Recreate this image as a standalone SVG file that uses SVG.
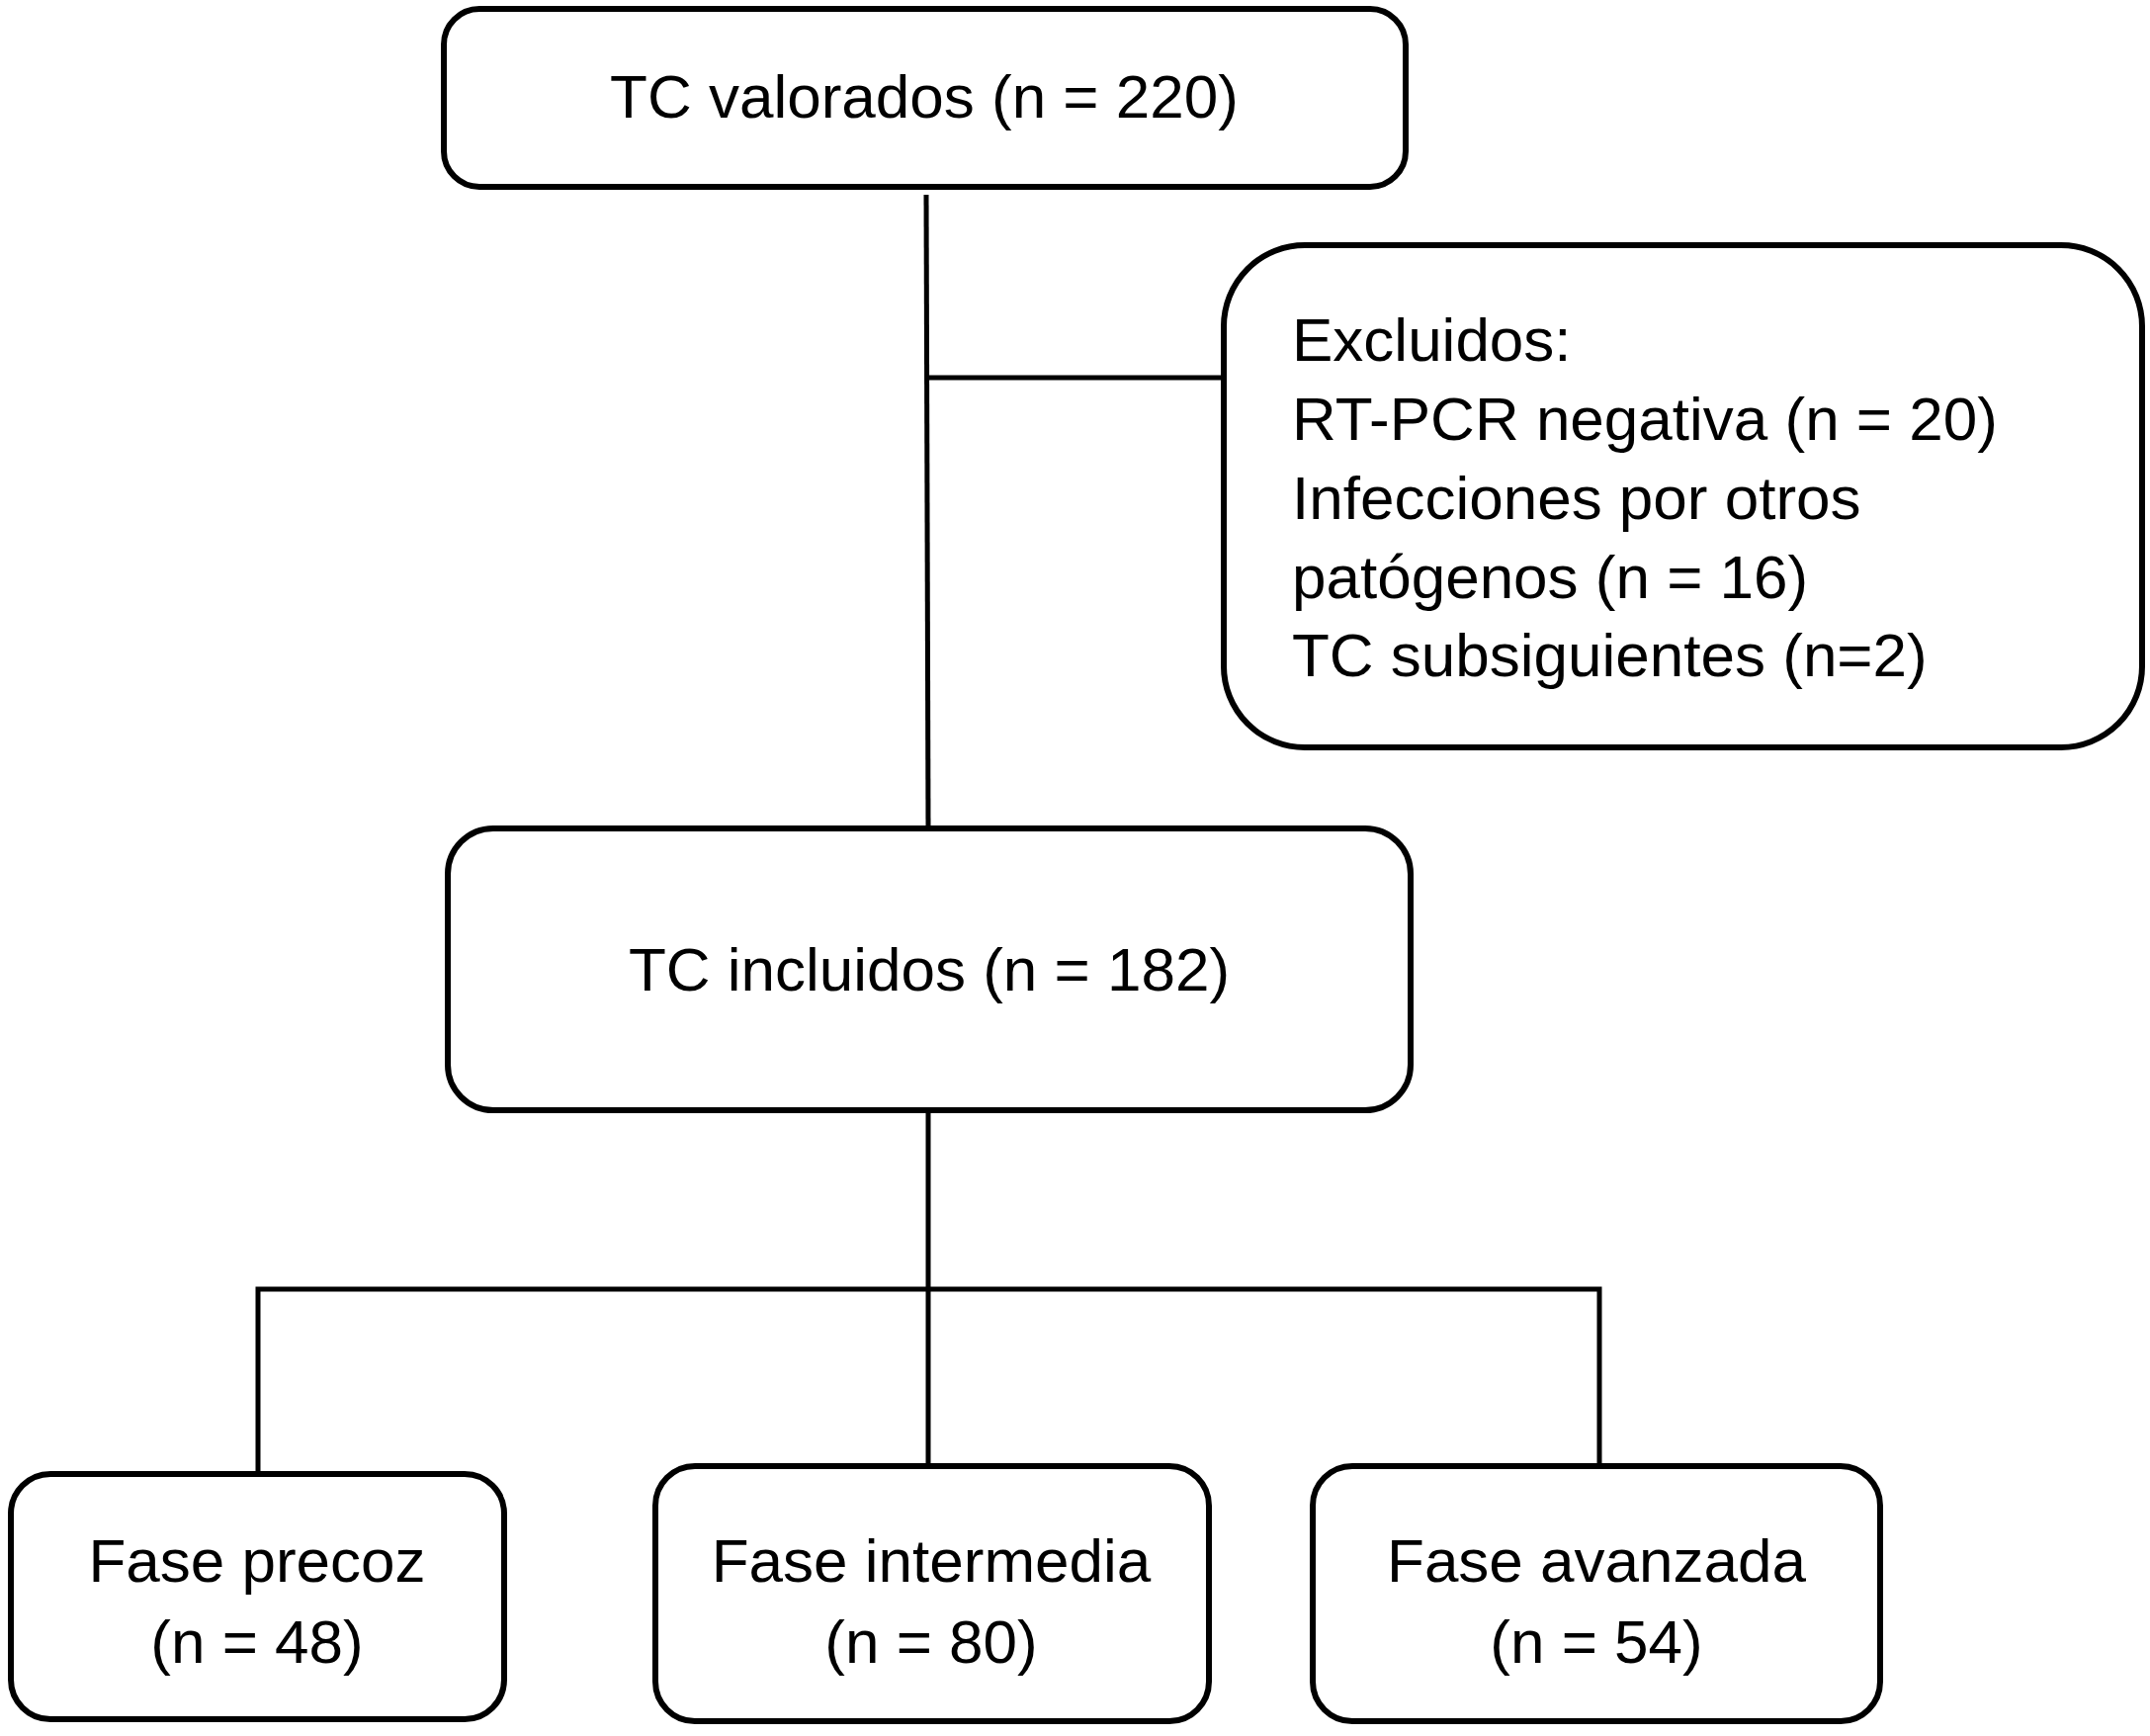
<svg xmlns="http://www.w3.org/2000/svg" width="2175" height="1756" viewBox="0 0 2175 1756">
<style>
.box{fill:#fff;stroke:#000;stroke-width:6}
.c{fill:none;stroke:#000;stroke-width:5;stroke-linecap:butt}
text{font-family:"Liberation Sans",Arial,sans-serif;font-size:62px;fill:#000}
.m{text-anchor:middle}
</style>
<rect width="2175" height="1756" fill="#fff"/>
<g id="connectors">
<line class="c" x1="937" y1="197" x2="939" y2="837"/>
<line class="c" x1="937" y1="382" x2="1238" y2="382"/>
<line class="c" x1="939" y1="1123" x2="939" y2="1482"/>
<polyline class="c" points="261,1491 261,1304 1618,1304 1618,1482"/>
</g>
<g id="n_valorados">
<rect class="box" x="449" y="9" width="973" height="180" rx="36" ry="36"/>
<text class="m" x="935" y="119">TC valorados (n = 220)</text>
</g>
<g id="n_excluidos">
<rect class="box" x="1238" y="248" width="929" height="508" rx="82" ry="82"/>
<text x="1307" y="365">Excluidos:</text>
<text x="1307" y="445">RT-PCR negativa (n = 20)</text>
<text x="1307" y="525">Infecciones por otros</text>
<text x="1307" y="605">patógenos (n = 16)</text>
<text x="1307" y="684">TC subsiguientes (n=2)</text>
</g>
<g id="n_incluidos">
<rect class="box" x="453" y="838" width="974" height="285" rx="46" ry="46"/>
<text class="m" x="940" y="1002">TC incluidos (n = 182)</text>
</g>
<g id="n_precoz">
<rect class="box" x="11" y="1491" width="499" height="248" rx="40" ry="40"/>
<text class="m" x="260" y="1600">Fase precoz</text>
<text class="m" x="260" y="1682">(n = 48)</text>
</g>
<g id="n_intermedia">
<rect class="box" x="663" y="1483" width="560" height="258" rx="40" ry="40"/>
<text class="m" x="942" y="1600">Fase intermedia</text>
<text class="m" x="942" y="1682">(n = 80)</text>
</g>
<g id="n_avanzada">
<rect class="box" x="1328" y="1483" width="574" height="258" rx="40" ry="40"/>
<text class="m" x="1615" y="1600">Fase avanzada</text>
<text class="m" x="1615" y="1682">(n = 54)</text>
</g>
</svg>
